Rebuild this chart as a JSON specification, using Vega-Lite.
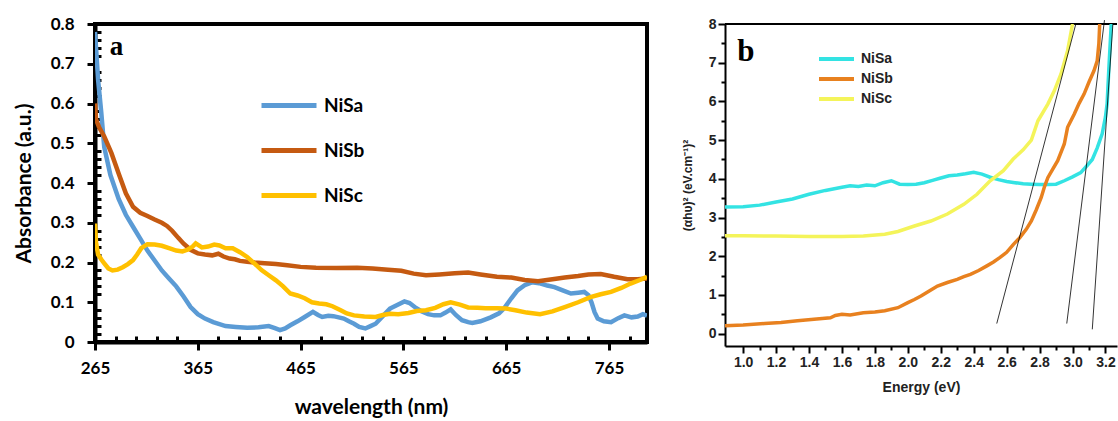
{
"$schema": "https://vega.github.io/schema/vega-lite/v6.json",
"background": "white",
"padding": {"left": 11, "top": 13, "right": 0, "bottom": 0},
"spacing": 32,
"config": {"view": {"stroke": null}, "font": "Lato"},
"resolve": {"scale": {"color": "independent"}},
"datasets": {
"abs": [
{"wl":265,"A":0.78,"sample":"NiSa"},{"wl":268,"A":0.66,"sample":"NiSa"},{"wl":271,"A":0.58,"sample":"NiSa"},{"wl":274,"A":0.49,"sample":"NiSa"},{"wl":280,"A":0.42,"sample":"NiSa"},{"wl":288,"A":0.36,"sample":"NiSa"},{"wl":295,"A":0.32,"sample":"NiSa"},{"wl":302,"A":0.29,"sample":"NiSa"},{"wl":309,"A":0.26,"sample":"NiSa"},{"wl":316,"A":0.23,"sample":"NiSa"},{"wl":323,"A":0.205,"sample":"NiSa"},{"wl":330,"A":0.18,"sample":"NiSa"},{"wl":337,"A":0.16,"sample":"NiSa"},{"wl":344,"A":0.14,"sample":"NiSa"},{"wl":351,"A":0.115,"sample":"NiSa"},{"wl":358,"A":0.088,"sample":"NiSa"},{"wl":365,"A":0.07,"sample":"NiSa"},{"wl":372,"A":0.059,"sample":"NiSa"},{"wl":380,"A":0.05,"sample":"NiSa"},{"wl":392,"A":0.04,"sample":"NiSa"},{"wl":402,"A":0.038,"sample":"NiSa"},{"wl":413,"A":0.036,"sample":"NiSa"},{"wl":424,"A":0.037,"sample":"NiSa"},{"wl":434,"A":0.04,"sample":"NiSa"},{"wl":440,"A":0.035,"sample":"NiSa"},{"wl":445,"A":0.03,"sample":"NiSa"},{"wl":450,"A":0.034,"sample":"NiSa"},{"wl":455,"A":0.042,"sample":"NiSa"},{"wl":462,"A":0.052,"sample":"NiSa"},{"wl":469,"A":0.063,"sample":"NiSa"},{"wl":477,"A":0.076,"sample":"NiSa"},{"wl":482,"A":0.068,"sample":"NiSa"},{"wl":486,"A":0.063,"sample":"NiSa"},{"wl":492,"A":0.066,"sample":"NiSa"},{"wl":497,"A":0.065,"sample":"NiSa"},{"wl":502,"A":0.062,"sample":"NiSa"},{"wl":507,"A":0.059,"sample":"NiSa"},{"wl":512,"A":0.052,"sample":"NiSa"},{"wl":517,"A":0.046,"sample":"NiSa"},{"wl":522,"A":0.038,"sample":"NiSa"},{"wl":528,"A":0.034,"sample":"NiSa"},{"wl":533,"A":0.04,"sample":"NiSa"},{"wl":538,"A":0.046,"sample":"NiSa"},{"wl":545,"A":0.065,"sample":"NiSa"},{"wl":552,"A":0.084,"sample":"NiSa"},{"wl":558,"A":0.092,"sample":"NiSa"},{"wl":566,"A":0.102,"sample":"NiSa"},{"wl":571,"A":0.098,"sample":"NiSa"},{"wl":576,"A":0.088,"sample":"NiSa"},{"wl":582,"A":0.078,"sample":"NiSa"},{"wl":589,"A":0.07,"sample":"NiSa"},{"wl":595,"A":0.067,"sample":"NiSa"},{"wl":601,"A":0.067,"sample":"NiSa"},{"wl":606,"A":0.074,"sample":"NiSa"},{"wl":611,"A":0.082,"sample":"NiSa"},{"wl":616,"A":0.068,"sample":"NiSa"},{"wl":622,"A":0.055,"sample":"NiSa"},{"wl":628,"A":0.05,"sample":"NiSa"},{"wl":632,"A":0.048,"sample":"NiSa"},{"wl":640,"A":0.052,"sample":"NiSa"},{"wl":650,"A":0.062,"sample":"NiSa"},{"wl":658,"A":0.072,"sample":"NiSa"},{"wl":663,"A":0.085,"sample":"NiSa"},{"wl":670,"A":0.11,"sample":"NiSa"},{"wl":676,"A":0.13,"sample":"NiSa"},{"wl":683,"A":0.143,"sample":"NiSa"},{"wl":690,"A":0.15,"sample":"NiSa"},{"wl":697,"A":0.148,"sample":"NiSa"},{"wl":705,"A":0.142,"sample":"NiSa"},{"wl":712,"A":0.138,"sample":"NiSa"},{"wl":720,"A":0.13,"sample":"NiSa"},{"wl":728,"A":0.122,"sample":"NiSa"},{"wl":735,"A":0.124,"sample":"NiSa"},{"wl":741,"A":0.126,"sample":"NiSa"},{"wl":745,"A":0.118,"sample":"NiSa"},{"wl":748,"A":0.1,"sample":"NiSa"},{"wl":751,"A":0.075,"sample":"NiSa"},{"wl":754,"A":0.059,"sample":"NiSa"},{"wl":760,"A":0.052,"sample":"NiSa"},{"wl":767,"A":0.05,"sample":"NiSa"},{"wl":774,"A":0.06,"sample":"NiSa"},{"wl":780,"A":0.067,"sample":"NiSa"},{"wl":787,"A":0.062,"sample":"NiSa"},{"wl":793,"A":0.064,"sample":"NiSa"},{"wl":798,"A":0.07,"sample":"NiSa"},{"wl":802,"A":0.066,"sample":"NiSa"},
{"wl":265,"A":0.6,"sample":"NiSb"},{"wl":266,"A":0.56,"sample":"NiSb"},{"wl":269,"A":0.54,"sample":"NiSb"},{"wl":274,"A":0.517,"sample":"NiSb"},{"wl":281,"A":0.475,"sample":"NiSb"},{"wl":288,"A":0.424,"sample":"NiSb"},{"wl":295,"A":0.374,"sample":"NiSb"},{"wl":302,"A":0.34,"sample":"NiSb"},{"wl":309,"A":0.325,"sample":"NiSb"},{"wl":316,"A":0.317,"sample":"NiSb"},{"wl":323,"A":0.308,"sample":"NiSb"},{"wl":330,"A":0.3,"sample":"NiSb"},{"wl":335,"A":0.292,"sample":"NiSb"},{"wl":340,"A":0.28,"sample":"NiSb"},{"wl":346,"A":0.262,"sample":"NiSb"},{"wl":351,"A":0.248,"sample":"NiSb"},{"wl":358,"A":0.232,"sample":"NiSb"},{"wl":365,"A":0.223,"sample":"NiSb"},{"wl":372,"A":0.22,"sample":"NiSb"},{"wl":379,"A":0.218,"sample":"NiSb"},{"wl":385,"A":0.222,"sample":"NiSb"},{"wl":390,"A":0.215,"sample":"NiSb"},{"wl":396,"A":0.21,"sample":"NiSb"},{"wl":401,"A":0.208,"sample":"NiSb"},{"wl":406,"A":0.204,"sample":"NiSb"},{"wl":413,"A":0.202,"sample":"NiSb"},{"wl":420,"A":0.2,"sample":"NiSb"},{"wl":430,"A":0.198,"sample":"NiSb"},{"wl":441,"A":0.196,"sample":"NiSb"},{"wl":452,"A":0.193,"sample":"NiSb"},{"wl":465,"A":0.189,"sample":"NiSb"},{"wl":480,"A":0.187,"sample":"NiSb"},{"wl":500,"A":0.186,"sample":"NiSb"},{"wl":520,"A":0.187,"sample":"NiSb"},{"wl":535,"A":0.185,"sample":"NiSb"},{"wl":550,"A":0.182,"sample":"NiSb"},{"wl":563,"A":0.179,"sample":"NiSb"},{"wl":575,"A":0.172,"sample":"NiSb"},{"wl":587,"A":0.168,"sample":"NiSb"},{"wl":600,"A":0.17,"sample":"NiSb"},{"wl":615,"A":0.173,"sample":"NiSb"},{"wl":628,"A":0.175,"sample":"NiSb"},{"wl":640,"A":0.17,"sample":"NiSb"},{"wl":656,"A":0.164,"sample":"NiSb"},{"wl":670,"A":0.162,"sample":"NiSb"},{"wl":683,"A":0.156,"sample":"NiSb"},{"wl":696,"A":0.153,"sample":"NiSb"},{"wl":710,"A":0.158,"sample":"NiSb"},{"wl":722,"A":0.162,"sample":"NiSb"},{"wl":735,"A":0.166,"sample":"NiSb"},{"wl":745,"A":0.17,"sample":"NiSb"},{"wl":757,"A":0.171,"sample":"NiSb"},{"wl":770,"A":0.164,"sample":"NiSb"},{"wl":783,"A":0.158,"sample":"NiSb"},{"wl":793,"A":0.158,"sample":"NiSb"},{"wl":802,"A":0.16,"sample":"NiSb"},
{"wl":265,"A":0.298,"sample":"NiSc"},{"wl":266,"A":0.25,"sample":"NiSc"},{"wl":268,"A":0.22,"sample":"NiSc"},{"wl":271,"A":0.208,"sample":"NiSc"},{"wl":274,"A":0.198,"sample":"NiSc"},{"wl":278,"A":0.185,"sample":"NiSc"},{"wl":282,"A":0.18,"sample":"NiSc"},{"wl":287,"A":0.182,"sample":"NiSc"},{"wl":292,"A":0.188,"sample":"NiSc"},{"wl":297,"A":0.196,"sample":"NiSc"},{"wl":302,"A":0.206,"sample":"NiSc"},{"wl":306,"A":0.22,"sample":"NiSc"},{"wl":310,"A":0.236,"sample":"NiSc"},{"wl":316,"A":0.246,"sample":"NiSc"},{"wl":323,"A":0.245,"sample":"NiSc"},{"wl":330,"A":0.242,"sample":"NiSc"},{"wl":337,"A":0.236,"sample":"NiSc"},{"wl":344,"A":0.23,"sample":"NiSc"},{"wl":350,"A":0.228,"sample":"NiSc"},{"wl":355,"A":0.232,"sample":"NiSc"},{"wl":360,"A":0.24,"sample":"NiSc"},{"wl":363,"A":0.248,"sample":"NiSc"},{"wl":369,"A":0.238,"sample":"NiSc"},{"wl":375,"A":0.24,"sample":"NiSc"},{"wl":381,"A":0.245,"sample":"NiSc"},{"wl":386,"A":0.243,"sample":"NiSc"},{"wl":392,"A":0.236,"sample":"NiSc"},{"wl":399,"A":0.236,"sample":"NiSc"},{"wl":406,"A":0.226,"sample":"NiSc"},{"wl":413,"A":0.214,"sample":"NiSc"},{"wl":420,"A":0.198,"sample":"NiSc"},{"wl":427,"A":0.181,"sample":"NiSc"},{"wl":434,"A":0.168,"sample":"NiSc"},{"wl":441,"A":0.155,"sample":"NiSc"},{"wl":448,"A":0.14,"sample":"NiSc"},{"wl":455,"A":0.122,"sample":"NiSc"},{"wl":462,"A":0.117,"sample":"NiSc"},{"wl":469,"A":0.11,"sample":"NiSc"},{"wl":476,"A":0.1,"sample":"NiSc"},{"wl":483,"A":0.097,"sample":"NiSc"},{"wl":490,"A":0.095,"sample":"NiSc"},{"wl":496,"A":0.09,"sample":"NiSc"},{"wl":504,"A":0.08,"sample":"NiSc"},{"wl":510,"A":0.072,"sample":"NiSc"},{"wl":517,"A":0.067,"sample":"NiSc"},{"wl":527,"A":0.064,"sample":"NiSc"},{"wl":538,"A":0.063,"sample":"NiSc"},{"wl":545,"A":0.068,"sample":"NiSc"},{"wl":552,"A":0.071,"sample":"NiSc"},{"wl":560,"A":0.07,"sample":"NiSc"},{"wl":570,"A":0.073,"sample":"NiSc"},{"wl":578,"A":0.078,"sample":"NiSc"},{"wl":587,"A":0.08,"sample":"NiSc"},{"wl":596,"A":0.086,"sample":"NiSc"},{"wl":604,"A":0.095,"sample":"NiSc"},{"wl":611,"A":0.1,"sample":"NiSc"},{"wl":620,"A":0.094,"sample":"NiSc"},{"wl":628,"A":0.087,"sample":"NiSc"},{"wl":637,"A":0.086,"sample":"NiSc"},{"wl":645,"A":0.085,"sample":"NiSc"},{"wl":656,"A":0.085,"sample":"NiSc"},{"wl":665,"A":0.084,"sample":"NiSc"},{"wl":674,"A":0.08,"sample":"NiSc"},{"wl":685,"A":0.074,"sample":"NiSc"},{"wl":698,"A":0.07,"sample":"NiSc"},{"wl":710,"A":0.077,"sample":"NiSc"},{"wl":722,"A":0.088,"sample":"NiSc"},{"wl":735,"A":0.1,"sample":"NiSc"},{"wl":747,"A":0.113,"sample":"NiSc"},{"wl":757,"A":0.12,"sample":"NiSc"},{"wl":767,"A":0.126,"sample":"NiSc"},{"wl":777,"A":0.136,"sample":"NiSc"},{"wl":786,"A":0.147,"sample":"NiSc"},{"wl":795,"A":0.156,"sample":"NiSc"},{"wl":802,"A":0.164,"sample":"NiSc"}
],
"tauc": [
{"E":0.89,"v":3.27,"sample":"NiSa"},{"E":1.0,"v":3.28,"sample":"NiSa"},{"E":1.1,"v":3.32,"sample":"NiSa"},{"E":1.2,"v":3.4,"sample":"NiSa"},{"E":1.3,"v":3.48,"sample":"NiSa"},{"E":1.4,"v":3.6,"sample":"NiSa"},{"E":1.5,"v":3.7,"sample":"NiSa"},{"E":1.6,"v":3.78,"sample":"NiSa"},{"E":1.65,"v":3.82,"sample":"NiSa"},{"E":1.7,"v":3.8,"sample":"NiSa"},{"E":1.75,"v":3.84,"sample":"NiSa"},{"E":1.8,"v":3.82,"sample":"NiSa"},{"E":1.85,"v":3.9,"sample":"NiSa"},{"E":1.9,"v":3.95,"sample":"NiSa"},{"E":1.95,"v":3.86,"sample":"NiSa"},{"E":2.0,"v":3.85,"sample":"NiSa"},{"E":2.05,"v":3.86,"sample":"NiSa"},{"E":2.1,"v":3.9,"sample":"NiSa"},{"E":2.15,"v":3.96,"sample":"NiSa"},{"E":2.2,"v":4.02,"sample":"NiSa"},{"E":2.25,"v":4.08,"sample":"NiSa"},{"E":2.3,"v":4.1,"sample":"NiSa"},{"E":2.35,"v":4.13,"sample":"NiSa"},{"E":2.4,"v":4.17,"sample":"NiSa"},{"E":2.45,"v":4.12,"sample":"NiSa"},{"E":2.5,"v":4.04,"sample":"NiSa"},{"E":2.55,"v":3.98,"sample":"NiSa"},{"E":2.6,"v":3.93,"sample":"NiSa"},{"E":2.65,"v":3.9,"sample":"NiSa"},{"E":2.7,"v":3.87,"sample":"NiSa"},{"E":2.75,"v":3.86,"sample":"NiSa"},{"E":2.8,"v":3.85,"sample":"NiSa"},{"E":2.85,"v":3.85,"sample":"NiSa"},{"E":2.9,"v":3.86,"sample":"NiSa"},{"E":2.95,"v":3.95,"sample":"NiSa"},{"E":3.0,"v":4.05,"sample":"NiSa"},{"E":3.05,"v":4.16,"sample":"NiSa"},{"E":3.09,"v":4.35,"sample":"NiSa"},{"E":3.12,"v":4.5,"sample":"NiSa"},{"E":3.15,"v":4.8,"sample":"NiSa"},{"E":3.18,"v":5.16,"sample":"NiSa"},{"E":3.2,"v":5.6,"sample":"NiSa"},{"E":3.21,"v":5.94,"sample":"NiSa"},{"E":3.22,"v":6.8,"sample":"NiSa"},{"E":3.235,"v":8.0,"sample":"NiSa"},
{"E":0.89,"v":0.2,"sample":"NiSb"},{"E":1.0,"v":0.22,"sample":"NiSb"},{"E":1.13,"v":0.26,"sample":"NiSb"},{"E":1.23,"v":0.29,"sample":"NiSb"},{"E":1.33,"v":0.33,"sample":"NiSb"},{"E":1.43,"v":0.37,"sample":"NiSb"},{"E":1.53,"v":0.41,"sample":"NiSb"},{"E":1.56,"v":0.47,"sample":"NiSb"},{"E":1.6,"v":0.5,"sample":"NiSb"},{"E":1.65,"v":0.48,"sample":"NiSb"},{"E":1.73,"v":0.54,"sample":"NiSb"},{"E":1.8,"v":0.56,"sample":"NiSb"},{"E":1.86,"v":0.59,"sample":"NiSb"},{"E":1.94,"v":0.67,"sample":"NiSb"},{"E":2.0,"v":0.8,"sample":"NiSb"},{"E":2.04,"v":0.88,"sample":"NiSb"},{"E":2.08,"v":0.97,"sample":"NiSb"},{"E":2.13,"v":1.1,"sample":"NiSb"},{"E":2.18,"v":1.23,"sample":"NiSb"},{"E":2.24,"v":1.32,"sample":"NiSb"},{"E":2.3,"v":1.4,"sample":"NiSb"},{"E":2.34,"v":1.47,"sample":"NiSb"},{"E":2.38,"v":1.53,"sample":"NiSb"},{"E":2.43,"v":1.63,"sample":"NiSb"},{"E":2.48,"v":1.75,"sample":"NiSb"},{"E":2.52,"v":1.85,"sample":"NiSb"},{"E":2.56,"v":1.97,"sample":"NiSb"},{"E":2.6,"v":2.1,"sample":"NiSb"},{"E":2.64,"v":2.3,"sample":"NiSb"},{"E":2.68,"v":2.48,"sample":"NiSb"},{"E":2.72,"v":2.7,"sample":"NiSb"},{"E":2.75,"v":2.91,"sample":"NiSb"},{"E":2.78,"v":3.2,"sample":"NiSb"},{"E":2.81,"v":3.52,"sample":"NiSb"},{"E":2.83,"v":3.8,"sample":"NiSb"},{"E":2.85,"v":4.03,"sample":"NiSb"},{"E":2.88,"v":4.25,"sample":"NiSb"},{"E":2.91,"v":4.47,"sample":"NiSb"},{"E":2.95,"v":4.9,"sample":"NiSb"},{"E":2.97,"v":5.33,"sample":"NiSb"},{"E":3.01,"v":5.67,"sample":"NiSb"},{"E":3.04,"v":5.95,"sample":"NiSb"},{"E":3.07,"v":6.19,"sample":"NiSb"},{"E":3.1,"v":6.5,"sample":"NiSb"},{"E":3.13,"v":6.79,"sample":"NiSb"},{"E":3.15,"v":7.05,"sample":"NiSb"},{"E":3.16,"v":7.5,"sample":"NiSb"},{"E":3.165,"v":8.0,"sample":"NiSb"},
{"E":0.89,"v":2.53,"sample":"NiSc"},{"E":1.0,"v":2.53,"sample":"NiSc"},{"E":1.2,"v":2.52,"sample":"NiSc"},{"E":1.4,"v":2.51,"sample":"NiSc"},{"E":1.6,"v":2.51,"sample":"NiSc"},{"E":1.73,"v":2.52,"sample":"NiSc"},{"E":1.86,"v":2.57,"sample":"NiSc"},{"E":1.94,"v":2.64,"sample":"NiSc"},{"E":2.04,"v":2.78,"sample":"NiSc"},{"E":2.14,"v":2.91,"sample":"NiSc"},{"E":2.24,"v":3.09,"sample":"NiSc"},{"E":2.34,"v":3.34,"sample":"NiSc"},{"E":2.42,"v":3.6,"sample":"NiSc"},{"E":2.5,"v":3.95,"sample":"NiSc"},{"E":2.58,"v":4.21,"sample":"NiSc"},{"E":2.64,"v":4.51,"sample":"NiSc"},{"E":2.7,"v":4.75,"sample":"NiSc"},{"E":2.75,"v":5.0,"sample":"NiSc"},{"E":2.79,"v":5.5,"sample":"NiSc"},{"E":2.85,"v":5.93,"sample":"NiSc"},{"E":2.89,"v":6.28,"sample":"NiSc"},{"E":2.93,"v":6.71,"sample":"NiSc"},{"E":2.97,"v":7.31,"sample":"NiSc"},{"E":3.0,"v":8.0,"sample":"NiSc"}
],
"tangent": [
{"E":2.54,"v":0.26,"line":"t1"},{"E":3.02,"v":8.0,"line":"t1"},
{"E":2.965,"v":0.26,"line":"t2"},{"E":3.194,"v":8.1,"line":"t2"},
{"E":3.12,"v":0.11,"line":"t3"},{"E":3.245,"v":8.0,"line":"t3"}
]
},
"hconcat": [
{
"width": 552, "height": 318,
"view": {"stroke": "black", "strokeWidth": 4},
"layer": [
{
"data": {"name": "abs"},
"mark": {"type": "line", "strokeWidth": 4.5, "clip": true},
"encoding": {
"x": {"field": "wl", "type": "quantitative", "scale": {"domain": [265, 802], "nice": false, "zero": false},
"axis": {"title": "wavelength (nm)", "tickCount": 500, "values": [265,285,305,325,345,365,385,405,425,445,465,485,505,525,545,565,585,605,625,645,665,685,705,725,745,765,785],
"labelOverlap": false, "labelFlush": false, "labelBound": false,
"labelExpr": "(datum.value - 265) % 100 == 0 ? format(datum.value, 'd') : ''",
"tickSize": {"condition": {"test": "(datum.value - 265) % 100 == 0", "value": 8}, "value": -6},
"tickWidth": 3, "tickColor": "black", "domainColor": "black", "domainWidth": 4, "grid": false,
"labelFont": "Lato", "labelFontWeight": "bold", "labelFontSize": 17, "labelColor": "black", "labelPadding": 10,
"titleFont": "Lato", "titleFontWeight": "bold", "titleFontSize": 21, "titleColor": "black", "titlePadding": 20}},
"y": {"field": "A", "type": "quantitative", "scale": {"domain": [0, 0.8], "nice": false},
"axis": {"title": "Absorbance (a.u.)", "tickCount": 500, "values": [0,0.02,0.04,0.06,0.08,0.1,0.12,0.14,0.16,0.18,0.2,0.22,0.24,0.26,0.28,0.3,0.32,0.34,0.36,0.38,0.4,0.42,0.44,0.46,0.48,0.5,0.52,0.54,0.56,0.58,0.6,0.62,0.64,0.66,0.68,0.7,0.72,0.74,0.76,0.78,0.8],
"labelOverlap": false, "labelFlush": false, "labelBound": false,
"labelExpr": "abs(datum.value*10 - round(datum.value*10)) < 0.001 ? (datum.value == 0 ? '0' : format(datum.value, '.1f')) : ''",
"tickSize": {"condition": {"test": "abs(datum.value*10 - round(datum.value*10)) < 0.001", "value": 8}, "value": -6},
"tickWidth": 3, "tickColor": "black", "domainColor": "black", "domainWidth": 4, "grid": false,
"labelFont": "Lato", "labelFontWeight": "bold", "labelFontSize": 17, "labelColor": "black", "labelPadding": 13,
"titleFont": "Lato", "titleFontWeight": "bold", "titleFontSize": 21, "titleColor": "black", "titlePadding": 16}},
"color": {"field": "sample", "type": "nominal", "scale": {"domain": ["NiSa","NiSb","NiSc"], "range": ["#5B9BD5","#C55A11","#FFC000"]},
"legend": {"orient": "none", "legendX": 164, "legendY": 59, "title": null, "symbolType": "stroke", "symbolSize": 3025, "symbolStrokeWidth": 5, "rowPadding": 0, "clipHeight": 45, "padding": 0, "labelOffset": 5, "labelFont": "Lato", "labelFontWeight": "bold", "labelFontSize": 19, "labelColor": "black"}}
}
},
{
"data": {"values": [{}]},
"mark": {"type": "text", "font": "Liberation Serif", "fontWeight": "bold", "fontSize": 27, "color": "black", "align": "center", "baseline": "middle"},
"encoding": {"x": {"datum": 286}, "y": {"datum": 0.743}, "text": {"value": "a"}}
}
]
},
{
"width": 392, "height": 322,
"layer": [
{
"data": {"values": [{}]},
"mark": {"type": "rule", "color": "black", "strokeWidth": 2},
"encoding": {"y": {"datum": 8}}
},
{
"data": {"name": "tauc"},
"mark": {"type": "line", "strokeWidth": 3.5, "clip": true},
"encoding": {
"x": {"field": "E", "type": "quantitative", "scale": {"domain": [0.89, 3.27], "nice": false, "zero": false},
"axis": {"title": "Energy (eV)", "tickCount": 500, "values": [1.0,1.1,1.2,1.3,1.4,1.5,1.6,1.7,1.8,1.9,2.0,2.1,2.2,2.3,2.4,2.5,2.6,2.7,2.8,2.9,3.0,3.1,3.2],
"labelOverlap": false, "labelFlush": false, "labelBound": false,
"labelExpr": "abs(datum.value*5 - round(datum.value*5)) < 0.001 ? format(datum.value, '.1f') : ''",
"tickSize": {"condition": {"test": "abs(datum.value*5 - round(datum.value*5)) < 0.001", "value": 7}, "value": 4},
"tickWidth": 2, "tickColor": "black", "domainColor": "black", "domainWidth": 2, "grid": false,
"labelFont": "Liberation Sans", "labelFontWeight": "bold", "labelFontSize": 14, "labelColor": "#222", "labelPadding": 2,
"titleFont": "Liberation Sans", "titleFontWeight": "bold", "titleFontSize": 14, "titleColor": "#222", "titlePadding": 11}},
"y": {"field": "v", "type": "quantitative", "scale": {"domain": [-0.32, 8], "nice": false, "zero": false},
"axis": {"title": "(αhυ)² (eV.cm⁻¹)²", "tickCount": 500, "values": [0,0.5,1,1.5,2,2.5,3,3.5,4,4.5,5,5.5,6,6.5,7,7.5,8],
"labelOverlap": false, "labelFlush": false, "labelBound": false,
"labelExpr": "datum.value % 1 == 0 ? format(datum.value, 'd') : ''",
"tickSize": {"condition": {"test": "datum.value % 1 == 0", "value": 7}, "value": 4},
"tickWidth": 2, "tickColor": "black", "domainColor": "black", "domainWidth": 2, "grid": false,
"labelFont": "Liberation Sans", "labelFontWeight": "bold", "labelFontSize": 14, "labelColor": "#222", "labelPadding": 2,
"titleFont": "Liberation Sans", "titleFontWeight": "bold", "titleFontSize": 12, "titleColor": "#222", "titlePadding": 14}},
"color": {"field": "sample", "type": "nominal", "scale": {"domain": ["NiSa","NiSb","NiSc"], "range": ["#33E3E3","#E8811F","#F4F45A"]},
"legend": {"orient": "none", "legendX": 92, "legendY": 25, "title": null, "symbolType": "stroke", "symbolSize": 1225, "symbolStrokeWidth": 4, "rowPadding": 0, "clipHeight": 20, "padding": 0, "labelOffset": 5, "labelFont": "Liberation Sans", "labelFontWeight": "bold", "labelFontSize": 14, "labelColor": "#222"}}
}
},
{
"data": {"name": "tangent"},
"mark": {"type": "line", "color": "black", "strokeWidth": 0.8, "clip": false},
"encoding": {"x": {"field": "E", "type": "quantitative"}, "y": {"field": "v", "type": "quantitative"}, "detail": {"field": "line", "type": "nominal"}}
},
{
"data": {"values": [{}]},
"mark": {"type": "text", "font": "Liberation Serif", "fontWeight": "bold", "fontSize": 31, "color": "black", "align": "center", "baseline": "middle"},
"encoding": {"x": {"datum": 1.016}, "y": {"datum": 7.27}, "text": {"value": "b"}}
}
]
}
]
}
